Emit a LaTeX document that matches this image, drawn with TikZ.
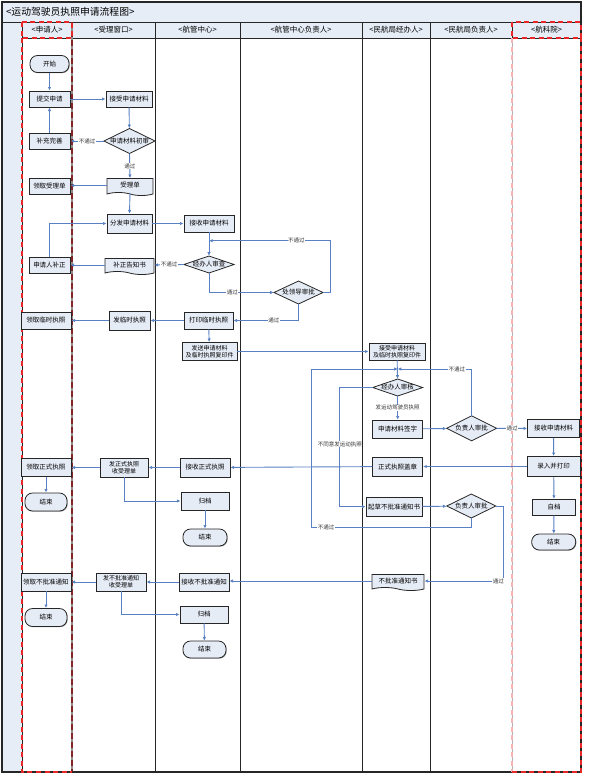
\documentclass[tikz,border=0pt]{standalone}
\usepackage{fontspec}
\newfontfamily\cjk{Noto Sans CJK SC}
\usetikzlibrary{arrows.meta,shapes.symbols,shadows,calc}
\definecolor{boxfill}{RGB}{230,236,246}
\definecolor{lanefill}{RGB}{230,237,247}
\definecolor{arrowc}{RGB}{88,128,194}
\definecolor{dashred}{RGB}{232,40,40}
\definecolor{darkred}{RGB}{128,36,36}
\begin{document}
\begin{tikzpicture}[x=1pt,y=-1pt,
  every node/.style={font=\cjk\fontsize{6.5}{7.5}\selectfont},
  box/.style={draw=black!85, line width=0.8pt, fill=boxfill, inner sep=0pt, align=center,
    drop shadow={shadow xshift=0.7pt, shadow yshift=-0.7pt, fill=black!45, opacity=0.8}},
  two/.style={font=\cjk\fontsize{6}{6.6}\selectfont},
  term/.style={box, rounded corners=7.5pt},
  docu/.style={tape, tape bend top=none, tape bend bottom=out and in, tape bend height=3pt,
    draw=black!85, line width=0.8pt, fill=boxfill, inner sep=0pt, align=center},
  dia/.style={inner sep=0pt, align=center},
  arr/.style={draw=arrowc, line width=0.9pt, -{Latex[length=3.6pt,width=3.4pt]}},
  lbl/.style={fill=white, inner sep=0.5pt, font=\cjk\fontsize{5.5}{6}\selectfont, text=black!80},
  hdr/.style={font=\cjk\fontsize{7.5}{8}\selectfont},
  lane/.style={draw=black!85, line width=1pt},
  rdash/.style={draw=dashred, line width=1.1pt, dash pattern=on 5pt off 3.5pt}
]
\useasboundingbox (0,0) rectangle (591,780);
% ---------- frame ----------
\fill[lanefill] (2,2) rectangle (581,38);
\fill[lanefill] (2,38) rectangle (22,772);
\draw[lane] (2,22) -- (581,22);
\draw[lane] (22,38) -- (581,38);
\foreach \xx in {22,155,240,362,430,512} {\draw[lane] (\xx,22) -- (\xx,772);}
\draw[draw=black!45, line width=1.4pt] (72,22) -- (72,772);
\draw[draw=darkred, line width=1.4pt, dash pattern=on 6pt off 3pt] (72,22) -- (72,772);
\draw[draw=black!85, line width=1.2pt] (2,2) rectangle (581,772);
% red dashed lanes
\draw[rdash] (22,22) rectangle (72,38);
\draw[rdash] (22,38) -- (22,772) -- (72,772);
\draw[rdash] (512,22) rectangle (581,38);
\draw[draw=black!30, line width=1pt] (512,38) -- (512,772);
\draw[draw=dashred!35, line width=1.1pt, dash pattern=on 5pt off 3.5pt] (512,38) -- (512,772);
\draw[rdash] (512,772) -- (581,772) -- (581,38);
% ---------- titles ----------
\node[anchor=west, font=\cjk\fontsize{9.8}{11}\selectfont] (title) at (2.5,12) {<运动驾驶员执照申请流程图>};
\node[hdr] (h1) at (47,30) {<申请人>};
\node[hdr] (h2) at (113.5,30) {<受理窗口>};
\node[hdr] (h3) at (197.5,30) {<航管中心>};
\node[hdr] (h4) at (301,30) {<航管中心负责人>};
\node[hdr] (h5) at (396,30) {<民航局经办人>};
\node[hdr] (h6) at (471,30) {<民航局负责人>};
\node[hdr] (h7) at (546.5,30) {<航科院>};
% ---------- diamonds (outlines) ----------
\foreach \cx/\cy/\w/\h in {129.5/141/51/25, 209/264.5/50/17, 298.5/292.5/49/23, 397.7/387.5/50/17, 471.7/428.3/50/25, 471.3/506/49/24}
  {\draw[draw=black!85, line width=0.8pt, fill=boxfill] (\cx,\cy-\h/2) -- (\cx+\w/2,\cy) -- (\cx,\cy+\h/2) -- (\cx-\w/2,\cy) -- cycle;}
% ---------- applicant lane ----------
\node[term, minimum width=39pt, minimum height=17pt] (start) at (49.5,64) {开始};
\node[box, minimum width=41pt, minimum height=16pt] (submit) at (49.5,99) {提交申请};
\node[box, minimum width=41pt, minimum height=16pt] (supp) at (49.5,141) {补充完善};
\node[box, minimum width=41pt, minimum height=16pt] (getrcpt) at (49.5,186) {领取受理单};
\node[box, minimum width=41pt, minimum height=16pt] (correct) at (49.5,265) {申请人补正};
\node[box, minimum width=50pt, minimum height=17pt] (gettemp) at (46,320.5) {领取临时执照};
\node[box, minimum width=50pt, minimum height=18pt] (getformal) at (46,467.5) {领取正式执照};
\node[term, minimum width=42pt, minimum height=18pt] (end1) at (46,502) {结束};
\node[box, minimum width=50pt, minimum height=18pt] (getreject) at (46,582) {领取不批准通知};
\node[term, minimum width=42pt, minimum height=18pt] (end2) at (46,617.5) {结束};
% ---------- window lane ----------
\node[box, minimum width=46pt, minimum height=16pt] (accept) at (129,99) {接受申请材料};
\node[dia, minimum width=51pt, minimum height=25pt] (check) at (129.5,141) {申请材料初审};
\node[docu, minimum width=46pt, minimum height=17pt] (rcpt) at (130,185.5) {受理单};
\node[box, minimum width=45pt, minimum height=19pt] (dist) at (129.5,223.5) {分发申请材料};
\node[docu, minimum width=49pt, minimum height=16pt] (notice) at (129.5,265) {补正告知书};
\node[box, minimum width=41pt, minimum height=19pt] (issuetemp) at (129.5,320.5) {发临时执照};
\node[box, two, minimum width=48pt, minimum height=19pt] (issueformal) at (124,467.5) {发正式执照\\收受理单};
\node[box, two, minimum width=50pt, minimum height=18pt] (issuereject) at (121,582) {发不批准通知\\收受理单};
% ---------- ATC centre lane ----------
\node[box, minimum width=50pt, minimum height=17pt] (recv) at (209,223.5) {接收申请材料};
\node[dia, minimum width=50pt, minimum height=17pt] (review) at (209,264.5) {经办人审查};
\node[box, minimum width=49pt, minimum height=17pt] (printtemp) at (208.5,320.5) {打印临时执照};
\node[box, two, minimum width=55pt, minimum height=18pt] (send) at (209.5,351.5) {发送申请材料\\及临时执照复印件};
\node[box, minimum width=50pt, minimum height=19pt] (recvformal) at (205,467.5) {接收正式执照};
\node[box, minimum width=48pt, minimum height=18pt] (arch1) at (205,501) {归档};
\node[term, minimum width=44pt, minimum height=17pt] (end3) at (205,537.5) {结束};
\node[box, minimum width=50pt, minimum height=18pt] (recvreject) at (204,582) {接收不批准通知};
\node[box, minimum width=48pt, minimum height=17pt] (arch2) at (204,614.5) {归档};
\node[term, minimum width=43pt, minimum height=17pt] (end4) at (204.5,649.5) {结束};
% ---------- ATC head ----------
\node[dia, minimum width=49pt, minimum height=23pt] (lead) at (298.5,292.5) {处领导审批};
% ---------- CAAC officer ----------
\node[box, two, minimum width=56pt, minimum height=17pt] (caacrecv) at (397,351.5) {接受申请材料\\及临时执照复印件};
\node[dia, minimum width=50pt, minimum height=17pt] (caacreview) at (397.7,387.5) {经办人审核};
\node[box, minimum width=50pt, minimum height=18pt] (sign) at (397.7,429) {申请材料签字};
\node[box, minimum width=50pt, minimum height=19pt] (stamp) at (397.7,466.5) {正式执照盖章};
\node[box, minimum width=56pt, minimum height=19pt] (draft) at (394,506.7) {起草不批准通知书};
\node[docu, minimum width=52pt, minimum height=16pt] (rejectdoc) at (398,581) {不批准通知书};
% ---------- CAAC head ----------
\node[dia, minimum width=50pt, minimum height=25pt] (head1) at (471.7,428.3) {负责人审批};
\node[dia, minimum width=49pt, minimum height=24pt] (head2) at (471.3,506) {负责人审批};
% ---------- academy ----------
\node[box, minimum width=52pt, minimum height=18pt] (acrecv) at (553.5,428.5) {接收申请材料};
\node[box, minimum width=53pt, minimum height=20pt] (acprint) at (553.7,466.5) {录入并打印};
\node[box, minimum width=43pt, minimum height=16pt] (acarch) at (554,507.3) {自档};
\node[term, minimum width=44pt, minimum height=16pt] (end5) at (553.7,542) {结束};
% ---------- junction points ----------
\coordinate (j1) at (209,240.7);
\coordinate (j2) at (397.7,369);
\coordinate (c1) at (311.7,527);
% ---------- connectors ----------
\draw[arr] (start) -- (submit);
\draw[arr] (submit) -- (accept);
\draw[arr] (accept) -- (check);
\draw[arr] (check.west) -- node[lbl] (l1) {不通过} (supp.east);
\draw[arr] (supp) -- (submit);
\draw[arr] (check.south) -- node[lbl] (l2) {通过} (rcpt.north);
\draw[arr] (rcpt.west) -- (rcpt.west -| getrcpt.east);
\draw[arr] (rcpt.south) -- (dist.north);
\draw[arr] (dist) -- (recv);
\draw[arr] (recv) -- (review);
\draw[arr] (review.west) -- node[lbl] (l3) {不通过} (notice.east);
\draw[arr] (notice.west) -- (correct.east);
\draw[arr] (correct.north) |- (dist.west);
\draw[arr] (review.south) |- node[lbl, pos=0.68] (l4) {通过} (lead.west);
\draw[arr] (lead.east) -- ++(7,0) |- node[lbl, pos=0.64] (l5) {不通过} (j1);
\draw[arr] (lead.south) |- node[lbl, pos=0.69] (l6) {通过} (printtemp.east);
\draw[arr] (printtemp) -- (issuetemp);
\draw[arr] (issuetemp) -- (gettemp);
\draw[arr] (printtemp) -- (send);
\draw[arr] (send.east) -- (send.east -| caacrecv.west);
\draw[arr] (caacrecv) -- (caacreview);
\draw[arr] (caacreview) -- node[lbl] (l7) {发运动驾驶员执照} (sign);
\draw[arr] (sign) -- (head1);
\draw[arr] (head1) -- node[lbl] (l8) {通过} (acrecv);
\draw[arr] (head1.north) |- node[lbl, pos=0.6] (l9) {不通过} (j2);
\draw[arr] (acrecv) -- (acprint);
\draw[arr] (acprint) -- (stamp);
\draw[arr] (acprint) -- (acarch);
\draw[arr] (acarch) -- (end5);
\draw[arr] (stamp) -- (recvformal);
\draw[arr] (recvformal) -- (issueformal);
\draw[arr] (issueformal) -- (getformal);
\draw[arr] (getformal) -- (end1);
\draw[arr] (issueformal.south) |- (arch1.west);
\draw[arr] (arch1) -- (end3);
\draw[arr] (caacreview.west) -- ++(-32.7,0) |- node[lbl, pos=0.237] (l10) {不同意发运动执照} (draft.west);
\draw[arr] (draft) -- (head2);
\draw[arr] (head2.east) -- ++(7,0) |- node[lbl, pos=0.53] (l11) {通过} (rejectdoc.east);
\draw[arr] (head2.south) |- node[lbl, pos=0.955] (l12) {不通过} (c1) |- (j2);
\draw[arr] (rejectdoc.west) -- (rejectdoc.west -| recvreject.east);
\draw[arr] (recvreject) -- (issuereject);
\draw[arr] (issuereject) -- (getreject);
\draw[arr] (getreject) -- (end2);
\draw[arr] (issuereject.south) |- (arch2.west);
\draw[arr] (arch2) -- (end4);
\end{tikzpicture}
\end{document}
